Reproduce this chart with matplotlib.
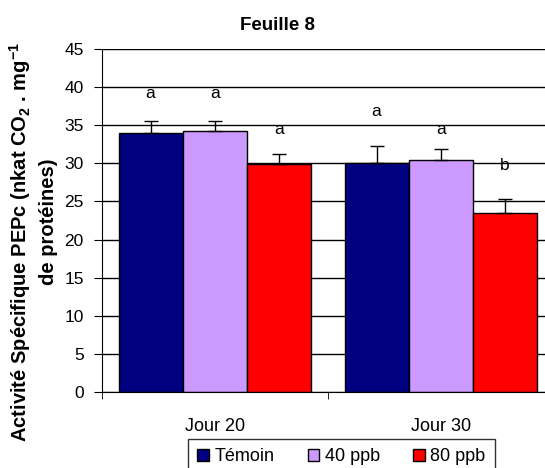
import matplotlib.pyplot as plt
import numpy as np

plt.rcParams['font.family'] = ['Liberation Sans', 'DejaVu Sans']
plt.rcParams['mathtext.fontset'] = 'custom'
plt.rcParams['mathtext.rm'] = 'Liberation Sans'
plt.rcParams['mathtext.bf'] = 'Liberation Sans:bold'
plt.rcParams['mathtext.default'] = 'bf'

categories = ['Jour 20', 'Jour 30']
series = ['Témoin', '40 ppb', '80 ppb']
colors = ['#000080', '#cc99ff', '#ff0000']
values = [
    [33.95, 30.05],
    [34.25, 30.45],
    [29.9, 23.5],
]
errors = [
    [1.65, 2.25],
    [1.35, 1.4],
    [1.3, 1.8],
]
letters = [['a', 'a'], ['a', 'a'], ['a', 'b']]
letter_y = [[39.2, 36.8], [39.2, 34.5], [34.5, 29.7]]

fig = plt.figure(figsize=(5.45, 4.68), dpi=100)
# axes runs past the right edge of the picture, as in the original
ax = fig.add_axes([0.1866, 0.1624, 0.8294, 0.7329])

x = np.arange(len(categories))
w = 0.2836
for i, s in enumerate(series):
    pos = x + (i - 1) * w
    ax.bar(pos, values[i], width=w, color=colors[i], edgecolor='black',
           linewidth=1, label=s, zorder=2)
    ax.errorbar(pos, values[i], yerr=[np.zeros(2), errors[i]], fmt='none',
                ecolor='black', elinewidth=1, capsize=5, capthick=1, zorder=3)
    for j in range(len(categories)):
        ax.text(pos[j], letter_y[i][j], letters[i][j], ha='center', va='center',
                fontsize=12.5)

ax.set_xlim(-0.5, 1.5)
ax.set_ylim(0, 45)
ax.set_yticks(range(0, 46, 5))
ax.yaxis.grid(True, color='black', linewidth=1, zorder=0)
ax.set_axisbelow(True)
ax.set_xticks(x)
ax.set_xticklabels(categories, fontsize=13)
ax.set_xticks([-0.5, 0.5, 1.5], minor=True)
ax.tick_params(axis='x', which='major', length=0, pad=19)
ax.tick_params(axis='x', which='minor', length=5, direction='out')
ax.tick_params(axis='y', length=6, direction='out', labelsize=12.5, pad=7)
for side in ['top', 'right']:
    ax.spines[side].set_visible(False)

fig.text(20 / 545, 1 - 242 / 468,
         'Activité Spécifique PEPc (nkat CO$_2$ . mg$^{-1}$',
         rotation=90, ha='center', va='center', fontsize=14.5, fontweight='bold')
fig.text(49 / 545, 1 - 222 / 468, 'de protéines)',
         rotation=90, ha='center', va='center', fontsize=14.5, fontweight='bold')
fig.text(277 / 545, 1 - 25 / 468, 'Feuille 8', ha='center', va='center',
         fontsize=13.5, fontweight='bold')

leg = fig.legend(*ax.get_legend_handles_labels(), loc='upper left',
                 bbox_to_anchor=(188 / 545, 1 - 439 / 468), ncol=3,
                 frameon=True, fancybox=False, edgecolor='black', fontsize=13,
                 handlelength=0.65, handleheight=0.65, handletextpad=0.3,
                 columnspacing=1.85, borderpad=0.5, borderaxespad=0)
leg.get_frame().set_linewidth(1)

fig.savefig('out.png', dpi=100)
